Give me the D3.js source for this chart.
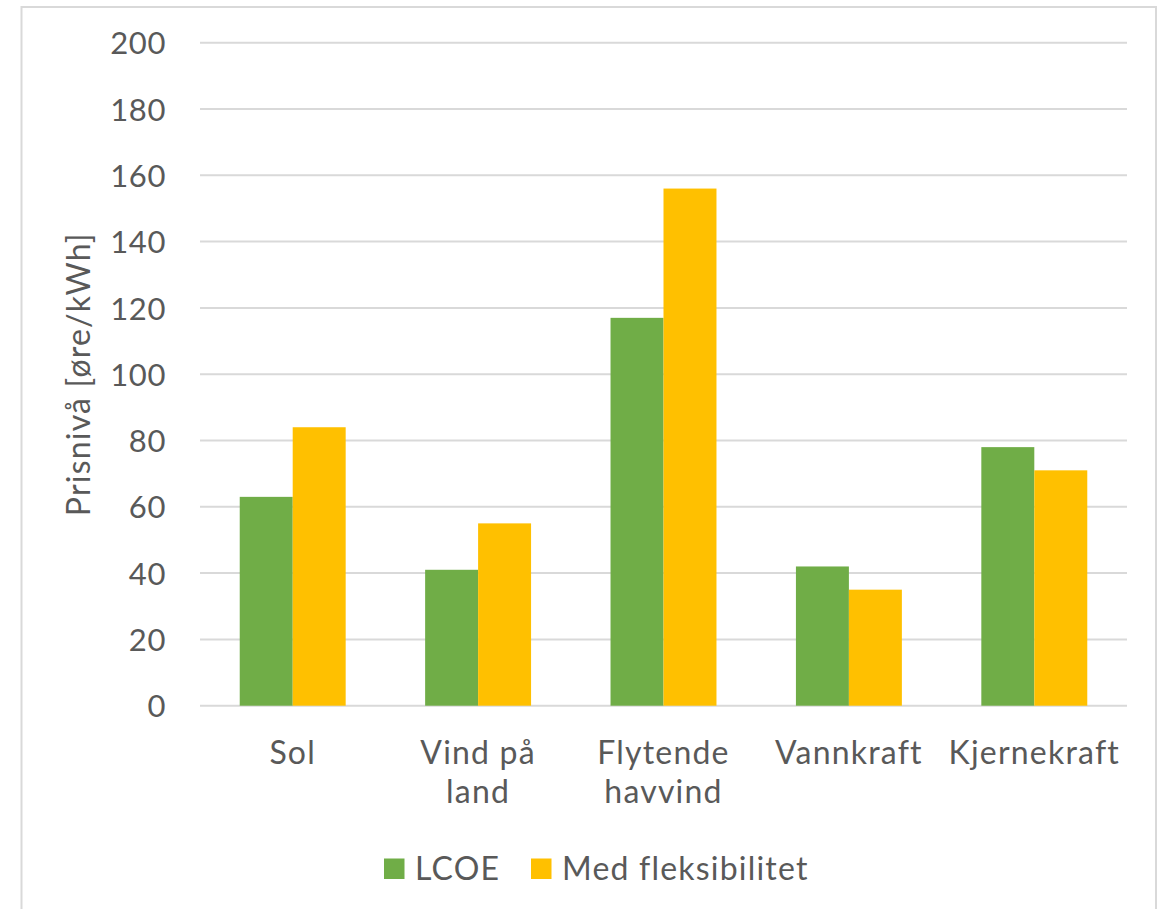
<!DOCTYPE html>
<html>
<head>
<meta charset="utf-8">
<script src="https://cdn.jsdelivr.net/npm/d3@7"></script>
<style>
  html, body { margin: 0; padding: 0; background: #ffffff; }
  svg { display: block; }
  text { font-family: "Lato", "Open Sans", sans-serif; fill: #595959; }
</style>
</head>
<body>
<svg id="chart" width="1163" height="909"></svg>
<script>
// Price levels per technology, øre/kWh
const categories = [["Sol"], ["Vind på", "land"], ["Flytende", "havvind"], ["Vannkraft"], ["Kjernekraft"]];
const seriesNames = ["LCOE", "Med fleksibilitet"];
const lcoe = [63, 41, 117, 42, 78];
const medFleksibilitet = [84, 55, 156, 35, 71];
const yTicks = [0, 20, 40, 60, 80, 100, 120, 140, 160, 180, 200];
const colors = ["#70AD47", "#FFC000"];
const yTitle = "Prisnivå [øre/kWh]";

const FONT = "Lato, 'Open Sans', sans-serif";
const FS = 32;
const LS = "1.2px";

const svg = d3.select("#chart");

// chart frame
svg.append("rect")
  .attr("x", 21.5).attr("y", 7).attr("width", 1134.5).attr("height", 920)
  .attr("fill", "#ffffff").attr("stroke", "#d9d9d9").attr("stroke-width", 2);

const plot = { left: 200, right: 1127, top: 42.7, bottom: 705.7 };

const x = d3.scaleBand()
  .domain(d3.range(categories.length))
  .range([plot.left, plot.right])
  .paddingInner(0).paddingOuter(0);

const y = d3.scaleLinear().domain([0, 200]).range([plot.bottom, plot.top]);

// gridlines
svg.append("g").selectAll("line")
  .data(yTicks)
  .join("line")
  .attr("x1", plot.left).attr("x2", plot.right)
  .attr("y1", d => y(d)).attr("y2", d => y(d))
  .attr("stroke", "#d9d9d9").attr("stroke-width", 2);

// y tick labels
const yAxis = d3.axisLeft(y).tickValues(yTicks).tickSize(0).tickPadding(0);
const yg = svg.append("g").attr("transform", `translate(166,0)`).call(yAxis);
yg.select(".domain").remove();
yg.selectAll("text")
  .attr("font-family", FONT)
  .attr("font-size", 31)
  .attr("letter-spacing", "0.6px")
  .attr("fill", "#595959")
  .attr("dy", "0.36em");

// bars
const bw = x.bandwidth() / 3.5;
const series = [lcoe, medFleksibilitet];
series.forEach((vals, s) => {
  svg.append("g").selectAll("rect")
    .data(vals)
    .join("rect")
    .attr("x", (d, i) => x(i) + x.bandwidth() / 2 - bw + s * bw)
    .attr("y", d => y(d))
    .attr("width", bw)
    .attr("height", d => y(0) - y(d))
    .attr("fill", colors[s]);
});

// category labels, one text per line
const xl = svg.append("g");
categories.forEach((lines, i) => {
  lines.forEach((ln, j) => {
    xl.append("text")
      .attr("x", x(i) + x.bandwidth() / 2)
      .attr("y", 764 + j * 38.5)
      .attr("text-anchor", "middle")
      .attr("font-size", FS)
      .attr("letter-spacing", LS)
      .text(ln);
  });
});

// y axis title
svg.append("text")
  .attr("transform", `translate(90,${(plot.top + plot.bottom) / 2}) rotate(-90)`)
  .attr("text-anchor", "middle")
  .attr("font-size", FS)
  .attr("letter-spacing", LS)
  .text(yTitle);

// legend
const legendItems = [{ x: 384 }, { x: 531 }];
const lg = svg.append("g");
seriesNames.forEach((name, s) => {
  lg.append("rect")
    .attr("x", legendItems[s].x).attr("y", 858.5)
    .attr("width", 20.5).attr("height", 20.5)
    .attr("fill", colors[s]);
  lg.append("text")
    .attr("x", legendItems[s].x + 31)
    .attr("y", 879.5)
    .attr("font-size", FS)
    .attr("letter-spacing", LS)
    .text(name);
});
</script>
</body>
</html>
